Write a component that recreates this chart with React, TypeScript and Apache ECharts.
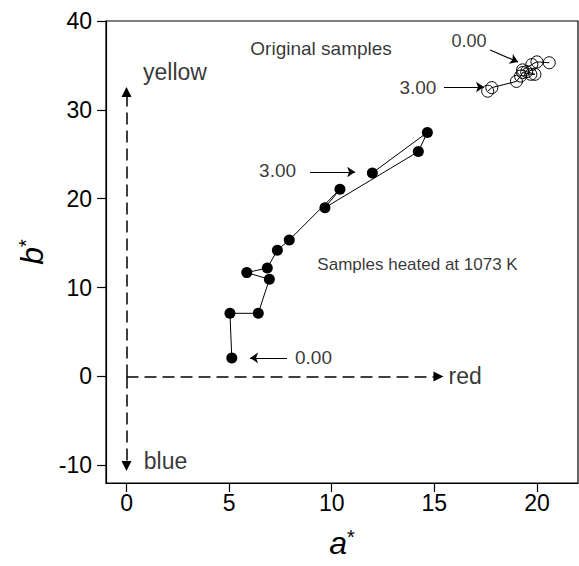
import React, { useEffect, useRef } from "react";
import * as echarts from "echarts";

// Heated samples (1073 K), in heating order from 0.00 to 3.00
const heatedA = [5.13, 5.04, 6.42, 6.96, 5.86, 6.86, 7.35, 7.93, 10.4, 9.67, 14.22, 14.66, 11.98];
const heatedB = [2.08, 7.1, 7.1, 10.93, 11.68, 12.2, 14.2, 15.35, 21.06, 18.99, 25.3, 27.46, 22.9];

// Original samples
const originalA = [20.6, 20.0, 19.75, 19.3, 19.5, 19.9, 19.7, 19.3, 19.2, 19.0, 17.8, 17.6];
const originalB = [35.3, 35.4, 35.1, 34.5, 34.3, 34.0, 34.0, 34.2, 33.8, 33.2, 32.5, 32.1];

// Axis ticks
const xTicks = [0, 5, 10, 15, 20];
const yTicks = [-10, 0, 10, 20, 30, 40];

// Annotation texts and their anchor points (data units)
const annText = ["Original samples", "0.00", "3.00", "3.00", "Samples heated at 1073 K", "0.00", "yellow", "blue", "red"];
const annA = [9.48, 16.69, 14.2, 7.36, 14.18, 9.11, 2.36, 1.9, 16.5];
const annB = [36.96, 37.75, 32.57, 23.2, 12.54, 2.08, 34.26, -9.5, 0];

// Solid pointer arrows (from -> to)
const arrowFromA = [17.72, 15.47, 8.94, 7.82];
const arrowFromB = [36.73, 32.57, 23.0, 2.08];
const arrowToA = [19.08, 17.42, 11.14, 6.02];
const arrowToB = [35.38, 32.57, 23.0, 2.08];

// Dashed colour-direction arrows (from origin to)
const dirToA = [0, 0, 15.2];
const dirToB = [32.0, -10.1, 0];

export default function App() {
  const ref = useRef<HTMLDivElement>(null);
  useEffect(() => {
    const chart = echarts.init(ref.current!, null, { renderer: "svg" });
    const font = "'Liberation Sans', Arial, Helvetica, sans-serif";
    const annSize = [19, 18, 19, 19, 17, 19, 23, 23, 23];
    const pairs = (a: number[], b: number[]) => a.map((v, i) => [v, b[i]]);

    chart.setOption({
      animation: false,
      backgroundColor: "#fff",
      grid: {
        left: 106,
        right: 1,
        top: 21,
        bottom: 83,
        show: true,
        borderColor: "#000",
        borderWidth: 1.2,
        backgroundColor: "transparent",
      },
      xAxis: {
        type: "value",
        min: -1,
        max: 22,
        name: "{a|a}{s|*}",
        nameLocation: "middle",
        nameGap: 44,
        nameTextStyle: {
          rich: {
            a: { fontSize: 32, fontStyle: "italic", fontFamily: font, color: "#000" },
            s: { fontSize: 20, fontFamily: font, color: "#000", verticalAlign: "top" },
          },
        },
        axisLine: { onZero: false, lineStyle: { color: "#000", width: 1.2 } },
        axisTick: { show: true, length: 9, customValues: xTicks, lineStyle: { color: "#000", width: 1.2 } },
        axisLabel: { customValues: xTicks, fontSize: 23, color: "#000", fontFamily: font, margin: 8 },
        splitLine: { show: false },
      },
      yAxis: {
        type: "value",
        min: -12,
        max: 40,
        name: "{a|b}{s|*}",
        nameLocation: "middle",
        nameRotate: 90,
        nameGap: 56,
        nameTextStyle: {
          rich: {
            a: { fontSize: 32, fontStyle: "italic", fontFamily: font, color: "#000" },
            s: { fontSize: 20, fontFamily: font, color: "#000", verticalAlign: "top" },
          },
        },
        axisLine: { onZero: false, lineStyle: { color: "#000", width: 1.2 } },
        axisTick: { show: true, length: 9, customValues: yTicks, lineStyle: { color: "#000", width: 1.2 } },
        axisLabel: { customValues: yTicks, fontSize: 23, color: "#000", fontFamily: font, margin: 14 },
        splitLine: { show: false },
      },
      series: [
        {
          type: "line",
          name: "heated",
          data: pairs(heatedA, heatedB),
          symbol: "circle",
          symbolSize: 11,
          itemStyle: { color: "#000" },
          lineStyle: { color: "#000", width: 1 },
          z: 3,
          markLine: {
            silent: true,
            symbol: ["none", "triangle"],
            symbolSize: 10,
            label: { show: false },
            lineStyle: { color: "#000", width: 1.5, type: [12, 6] },
            data: dirToA.map((a, i) => [
              { coord: [0, 0] },
              { coord: [a, dirToB[i]] },
            ]),
          },
        },
        {
          type: "line",
          name: "original",
          data: pairs(originalA, originalB),
          symbol: "circle",
          symbolSize: 12,
          itemStyle: { color: "rgba(0,0,0,0)", borderColor: "#000", borderWidth: 1 },
          lineStyle: { color: "#000", width: 1 },
          z: 3,
          markLine: {
            silent: true,
            symbol: ["none", "arrow"],
            symbolSize: 8,
            label: { show: false },
            lineStyle: { color: "#000", width: 1.2, type: "solid" },
            data: arrowFromA.map((a, i) => [
              { coord: [a, arrowFromB[i]] },
              { coord: [arrowToA[i], arrowToB[i]] },
            ]),
          },
        },
        {
          type: "scatter",
          name: "annotations",
          symbolSize: 0,
          silent: true,
          z: 5,
          data: annText.map((t, i) => ({
            value: [annA[i], annB[i]],
            name: t,
            label: { fontSize: annSize[i] },
          })),
          label: {
            show: true,
            position: "inside",
            formatter: "{b}",
            color: "#000",
            fontFamily: font,
          },
        },
      ],
    });
    return () => chart.dispose();
  }, []);
  return (
    <div
      ref={ref}
      style={{ position: "absolute", left: 0, top: 0, width: 579, height: 566 }}
    />
  );
}
